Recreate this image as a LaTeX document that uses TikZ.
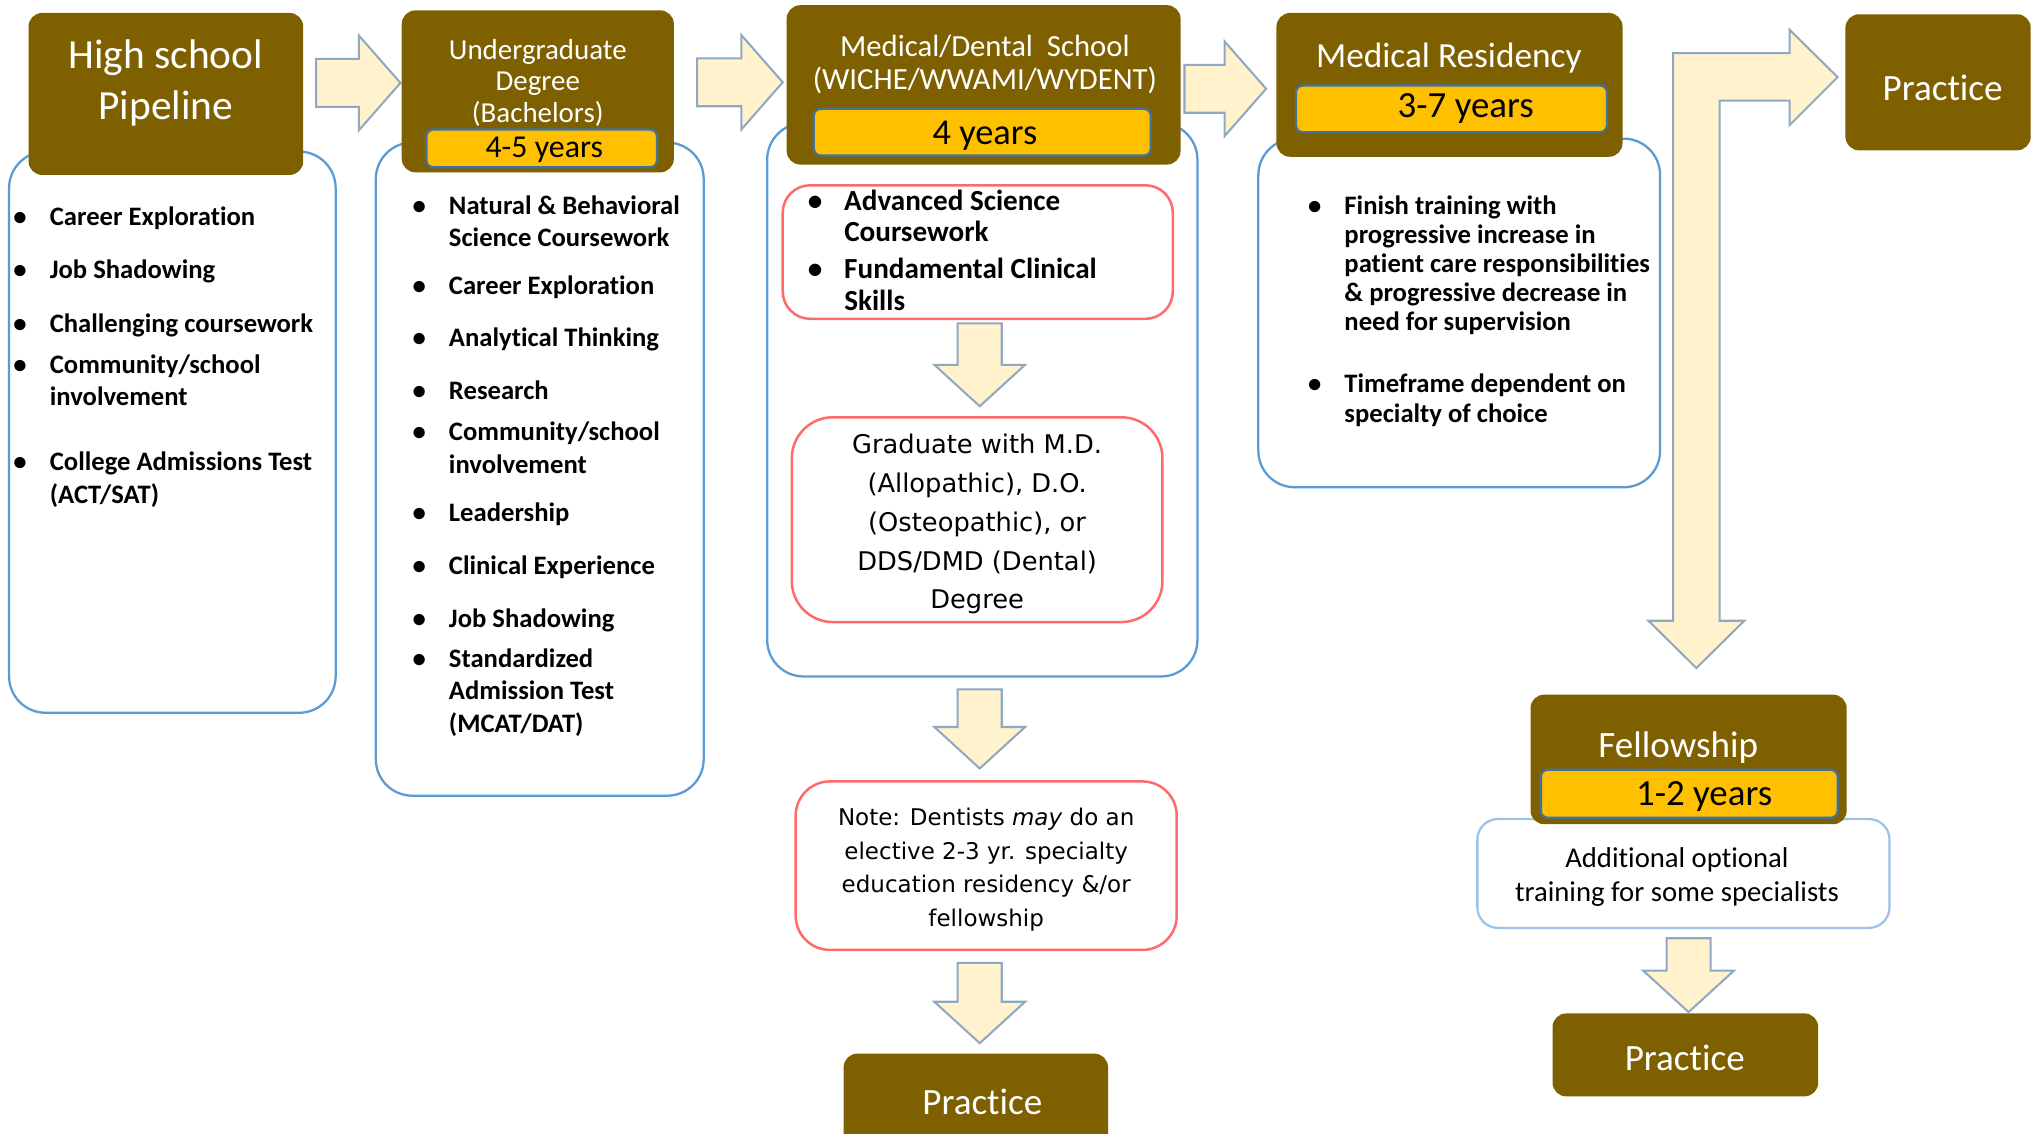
\documentclass[tikz,border=0pt]{standalone}
\usepackage{fontspec}
\setmainfont{Carlito}[Ligatures=NoCommon]
\newfontfamily\widefont{DejaVu Sans}
\usetikzlibrary{positioning}
\usetikzlibrary{fit}

\definecolor{stagebrown}{HTML}{7F6000}
\definecolor{gold}{HTML}{FFC000}
\definecolor{barblue}{HTML}{41719C}
\definecolor{listblue}{HTML}{5B9BD5}
\definecolor{paleblue}{HTML}{9DC3E6}
\definecolor{notered}{HTML}{FF6B6B}
\definecolor{arrowfill}{HTML}{FFF2CC}
\definecolor{arrowline}{HTML}{8EA9C1}

\newcommand{\bul}[1]{\makebox[16pt][l]{\textbullet}\begin{tabular}[t]{@{}l@{}}#1\end{tabular}}

\tikzset{
  rarrow/.pic={\draw[blockarrow] (0,0) -- (-32,-36.5) -- (-32,-18.5) -- (-#1,-18.5) -- (-#1,18.5) -- (-32,18.5) -- (-32,36.5) -- cycle;},
  darrow/.pic={\draw[blockarrow] (0,0) -- (-35,-32) -- (-17,-32) -- (-17,-#1) -- (17,-#1) -- (17,-32) -- (35,-32) -- cycle;}
}

\begin{document}
\begin{tikzpicture}[x=0.02cm, y=-0.02cm,
			stage/.style={fill=stagebrown, rounded corners=6pt, inner sep=0pt},
			stagetext/.style={text=white, align=center},
			yearbar/.style={fill=gold, draw=barblue, line width=1pt, rounded corners=3pt, inner sep=0pt},
			listbox/.style={draw=listblue, line width=1pt, fill=white, rounded corners=16pt, inner sep=0pt},
			redbox/.style={draw=notered, line width=1.1pt, fill=white, rounded corners=#1, inner sep=0pt},
			item/.style={anchor=mid west, inner sep=0pt, font=\bfseries\fontsize{11.7}{14.2}\selectfont},
			blockarrow/.style={fill=arrowfill, draw=arrowline, line width=0.9pt, line join=miter}
			]
			\useasboundingbox (0,0) rectangle (1568,875);
			
			% High school
			\node[listbox, fit={(7,117) (259,550)}] (hslist) {};
			\node[stage, fit={(22,10) (234,135)}] (hs) {};
			\node[stagetext, font=\fontsize{18.2}{22.2}\selectfont] (hstitle) at (128,64) {High school\\Pipeline};
			\foreach \y/\txt [count=\i] in {170/Career Exploration, 211/Job Shadowing, 252/Challenging coursework, 284/{Community/school\\involvement}, 359/{College Admissions Test\\(ACT/SAT)}}
			\node[item] (hs\i) at (10,\y) {\bul{\txt}};
			
			% Undergraduate
			\node[listbox, fit={(290,110) (543,614)}] (uglist) {};
			\node[stage, fit={(310,8) (520,133)}] (ug) {};
			\node[stagetext, font=\fontsize{12.7}{13.7}\selectfont] (ugtitle) at (415,64) {Undergraduate\\Degree\\(Bachelors)};
			\node[yearbar, fit={(329,100) (507,129)}] (ugbar) {};
			\node[font=\fontsize{14}{16}\selectfont] (ugyears) at (420,116) {4-5 years};
			\foreach \y/\txt [count=\i] in {161/{Natural \& Behavioral\\Science Coursework}, 223/Career Exploration, 263/Analytical Thinking, 304/Research, 336/{Community/school\\involvement}, 398/Leadership, 439/Clinical Experience, 480/Job Shadowing, 511/{Standardized\\Admission Test\\(MCAT/DAT)}}
			\node[item] (ug\i) at (318,\y) {\bul{\txt}};
			
			% Medical / dental school
			\node[listbox, fit={(592,95) (924,522)}] (medlist) {};
			\node[stage, fit={(607,4) (911,127)}] (med) {};
			\node[stagetext, font=\fontsize{13.5}{14.4}\selectfont] (medtitle) at (760,49.5) {Medical/Dental\ \ School\\(WICHE/WWAMI/WYDENT)};
			\node[yearbar, fit={(628,84) (888,120)}] (medbar) {};
			\node[font=\fontsize{16}{19}\selectfont] (medyears) at (760,105) {4 years};
			\node[redbox=12pt, fit={(604,143) (905,246)}] (medskills) {};
			\node[item, font=\bfseries\fontsize{12.8}{13.7}\selectfont] (med1) at (623,158) {\bul{Advanced Science\\Coursework}};
			\node[item, font=\bfseries\fontsize{12.8}{13.7}\selectfont] (med2) at (623,211) {\bul{Fundamental Clinical\\Skills}};
			\pic at (756,313.5) {darrow=64};
			\node[redbox=18pt, fit={(611,322) (897,480)}] (grad) {};
			\node[align=center, font=\widefont\fontsize{11.3}{17}\selectfont] (gradtext) at (754,404.5) {Graduate with M.D.\\(Allopathic), D.O.\\(Osteopathic), or\\DDS/DMD (Dental)\\Degree};
			\pic at (756,593) {darrow=61};
			\node[redbox=15pt, fit={(614,603) (908,733)}] (note) {};
			\node[align=center, font=\widefont\fontsize{10.1}{14.8}\selectfont] (notetext) at (761,671) {Note: Dentists \emph{may} do an\\elective 2-3 yr. specialty\\education residency \&/or\\fellowship};
			\pic at (756,805) {darrow=62};
			\node[stage, fit={(651,813) (855,890)}] (practicea) {};
			\node[stagetext, font=\fontsize{16.3}{19}\selectfont] (practiceatext) at (758,850) {Practice};
			
			% Arrows between stages
			\pic at (309,64) {rarrow=65};
			\pic at (604,63.5) {rarrow=66};
			\pic at (977,68.5) {rarrow=63};
			
			% Residency
			\node[listbox, fit={(971,107) (1281,376)}] (reslist) {};
			\node[stage, fit={(985,10) (1252,121)}] (res) {};
			\node[stagetext, font=\fontsize{15.5}{18}\selectfont] (restitle) at (1118,45) {Medical Residency};
			\node[yearbar, fit={(1000,66) (1240,102)}] (resbar) {};
			\node[font=\fontsize{16.2}{19}\selectfont] (resyears) at (1131,84) {3-7 years};
			\node[item, font=\bfseries\fontsize{11.7}{12.8}\selectfont] (res1) at (1009,161) {\bul{Finish training with\\progressive increase in\\patient care responsibilities\\\& progressive decrease in\\need for supervision}};
			\node[item, font=\bfseries\fontsize{11.7}{12.8}\selectfont] (res2) at (1009,299) {\bul{Timeframe dependent on\\specialty of choice}};
			
			% Bent arrow to practice / fellowship
			\draw[blockarrow] (1291,479) -- (1291,41) -- (1381,41) -- (1381,23) -- (1418,59.5) -- (1381,96.5) -- (1381,77.7) -- (1327,77.7) -- (1327,479) -- (1346,479) -- (1309,515.5) -- (1272,479) -- cycle;
			\node[stage, fit={(1424,11) (1567,116)}] (practiceb) {};
			\node[stagetext, font=\fontsize{16.3}{19}\selectfont] (practicebtext) at (1499,68) {Practice};
			
			% Fellowship
			\node[draw=paleblue, line width=1pt, fill=white, rounded corners=9pt, inner sep=0pt, fit={(1140,632) (1458,716)}] (fellinfo) {};
			\node[stage, fit={(1181,536) (1425,636)}] (fell) {};
			\node[stagetext, font=\fontsize{16.3}{19}\selectfont] (felltitle) at (1295,577) {Fellowship};
			\node[yearbar, fit={(1189,594) (1418,631)}] (fellbar) {};
			\node[font=\fontsize{16.2}{19}\selectfont] (fellyears) at (1315,615) {1-2 years};
			\node[align=center, font=\fontsize{12.6}{14.8}\selectfont] (felltext) at (1294,677) {Additional optional\\training for some specialists};
			\pic at (1303,781) {darrow=57};
			\node[stage, fit={(1198,782) (1403,846)}] (practicec) {};
			\node[stagetext, font=\fontsize{16.3}{19}\selectfont] (practicectext) at (1300,816) {Practice};
		\end{tikzpicture}
\end{document}
